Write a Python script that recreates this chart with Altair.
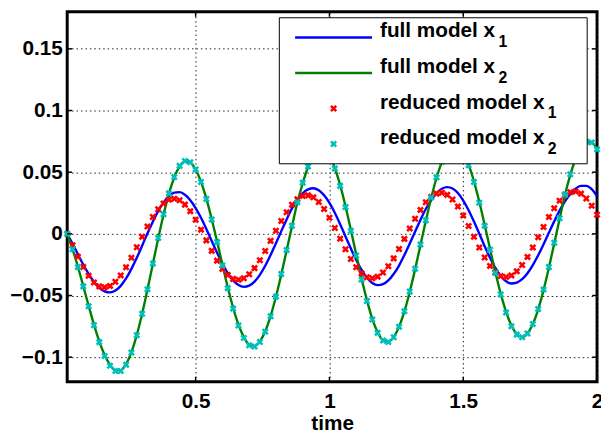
import altair as alt
import pandas as pd

# ---------------- data ----------------
time = [round(0.02 * k, 2) for k in range(1, 101)]  # sample times 0.02 ... 2.00

full_x1 = [
    0.0000, -0.0081, -0.0166, -0.0249, -0.0325, -0.0389, -0.0437, -0.0466, -0.0475, -0.0460,
    -0.0422, -0.0362, -0.0284, -0.0194, -0.0096, 0.0004, 0.0099, 0.0186, 0.0254, 0.0306,
    0.0334, 0.0338, 0.0317, 0.0273, 0.0209, 0.0130, 0.0039, -0.0058, -0.0153, -0.0242,
    -0.0318, -0.0378, -0.0415, -0.0430, -0.0420, -0.0387, -0.0332, -0.0259, -0.0172, -0.0077,
    0.0022, 0.0117, 0.0206, 0.0275, 0.0329, 0.0361, 0.0370, 0.0353, 0.0313, 0.0251,
    0.0171, 0.0078, -0.0021, -0.0119, -0.0212, -0.0293, -0.0356, -0.0398, -0.0416, -0.0408,
    -0.0378, -0.0326, -0.0257, -0.0172, -0.0079, 0.0018, 0.0113, 0.0201, 0.0273, 0.0330,
    0.0366, 0.0379, 0.0367, 0.0331, 0.0270, 0.0192, 0.0100, 0.0001, -0.0100, -0.0193,
    -0.0276, -0.0341, -0.0384, -0.0403, -0.0396, -0.0368, -0.0319, -0.0253, -0.0174, -0.0085,
    0.0009, 0.0101, 0.0188, 0.0263, 0.0323, 0.0367, 0.0389, 0.0389, 0.0362, 0.0305,
]

full_x2 = [
    0.0000, -0.0123, -0.0267, -0.0423, -0.0583, -0.0736, -0.0872, -0.0983, -0.1062, -0.1104,
    -0.1105, -0.1056, -0.0959, -0.0821, -0.0648, -0.0452, -0.0244, -0.0038, 0.0155, 0.0324,
    0.0457, 0.0547, 0.0588, 0.0578, 0.0522, 0.0422, 0.0286, 0.0121, -0.0061, -0.0250,
    -0.0433, -0.0599, -0.0736, -0.0837, -0.0897, -0.0908, -0.0872, -0.0790, -0.0667, -0.0510,
    -0.0329, -0.0135, 0.0061, 0.0252, 0.0410, 0.0542, 0.0636, 0.0684, 0.0684, 0.0633,
    0.0534, 0.0395, 0.0224, 0.0032, -0.0168, -0.0362, -0.0537, -0.0688, -0.0798, -0.0861,
    -0.0874, -0.0837, -0.0754, -0.0629, -0.0471, -0.0288, -0.0092, 0.0104, 0.0289, 0.0453,
    0.0581, 0.0672, 0.0716, 0.0711, 0.0658, 0.0561, 0.0426, 0.0260, 0.0073, -0.0121,
    -0.0311, -0.0485, -0.0632, -0.0744, -0.0813, -0.0835, -0.0807, -0.0732, -0.0612, -0.0456,
    -0.0274, -0.0078, 0.0121, 0.0314, 0.0478, 0.0609, 0.0701, 0.0746, 0.0741, 0.0688,
]

reduced_x1 = [
    0.0000, -0.0093, -0.0185, -0.0269, -0.0340, -0.0394, -0.0426, -0.0434, -0.0422, -0.0388,
    -0.0337, -0.0271, -0.0194, -0.0109, -0.0023, 0.0059, 0.0136, 0.0199, 0.0246, 0.0276,
    0.0285, 0.0272, 0.0237, 0.0184, 0.0114, 0.0034, -0.0053, -0.0138, -0.0217, -0.0284,
    -0.0334, -0.0365, -0.0373, -0.0360, -0.0328, -0.0278, -0.0214, -0.0139, -0.0057, 0.0025,
    0.0104, 0.0175, 0.0236, 0.0280, 0.0306, 0.0312, 0.0296, 0.0258, 0.0201, 0.0130,
    0.0048, -0.0039, -0.0125, -0.0204, -0.0271, -0.0322, -0.0352, -0.0360, -0.0347, -0.0314,
    -0.0263, -0.0199, -0.0123, -0.0041, 0.0043, 0.0123, 0.0194, 0.0256, 0.0300, 0.0326,
    0.0333, 0.0316, 0.0278, 0.0221, 0.0148, 0.0064, -0.0024, -0.0111, -0.0192, -0.0260,
    -0.0311, -0.0342, -0.0350, -0.0337, -0.0304, -0.0253, -0.0187, -0.0111, -0.0028, 0.0056,
    0.0137, 0.0208, 0.0269, 0.0313, 0.0338, 0.0344, 0.0326, 0.0286, 0.0228, 0.0155,
]

reduced_x2 = [
    0.0000, -0.0125, -0.0270, -0.0426, -0.0587, -0.0741, -0.0878, -0.0990, -0.1069, -0.1112,
    -0.1112, -0.1061, -0.0962, -0.0822, -0.0648, -0.0450, -0.0241, -0.0034, 0.0159, 0.0328,
    0.0461, 0.0551, 0.0591, 0.0580, 0.0522, 0.0420, 0.0282, 0.0116, -0.0067, -0.0257,
    -0.0440, -0.0606, -0.0743, -0.0844, -0.0904, -0.0914, -0.0877, -0.0793, -0.0668, -0.0509,
    -0.0326, -0.0131, 0.0066, 0.0257, 0.0415, 0.0546, 0.0639, 0.0686, 0.0684, 0.0631,
    0.0530, 0.0389, 0.0217, 0.0024, -0.0176, -0.0370, -0.0544, -0.0694, -0.0803, -0.0865,
    -0.0877, -0.0838, -0.0754, -0.0627, -0.0467, -0.0283, -0.0086, 0.0110, 0.0295, 0.0458,
    0.0585, 0.0675, 0.0717, 0.0710, 0.0655, 0.0556, 0.0420, 0.0253, 0.0065, -0.0129,
    -0.0318, -0.0492, -0.0638, -0.0749, -0.0817, -0.0838, -0.0808, -0.0731, -0.0610, -0.0452,
    -0.0269, -0.0072, 0.0127, 0.0320, 0.0483, 0.0613, 0.0703, 0.0747, 0.0740, 0.0685,
]

x_ticks = [0.5, 1.0, 1.5, 2.0]
y_ticks = [-0.1, -0.05, 0.0, 0.05, 0.1, 0.15]
legend_labels = ["full model x", "full model x", "reduced model x", "reduced model x"]
legend_subs = ["1", "2", "1", "2"]

# ---------------- styling ----------------
W, H = 537, 375
FONT = "Arial, Helvetica, sans-serif"
BLUE, GREEN, RED, CYAN = "#0000ff", "#008000", "#ff0000", "#00bfbf"
XMARK = "M-1,-1L1,1M-1,1L1,-1"
MSIZE, MSTROKE = 28, 2.6

xscale = alt.Scale(domain=[0.02, 2.0], nice=False, zero=False)
yscale = alt.Scale(domain=[-0.12, 0.18], nice=False, zero=False)

xaxis = alt.Axis(
    values=x_ticks, format="~g", grid=True, gridDash=[1.5, 3], gridColor="#222",
    gridWidth=1, domain=False, ticks=False, tickSize=0, labelPadding=9,
    labelFont=FONT, labelFontSize=21, labelFontWeight="bold", labelColor="black",
    labelFlush=False, labelOverlap=False, titleFont=FONT, titleFontSize=21,
    titleFontWeight="bold", titleColor="black", titleY=48, titleBaseline="alphabetic",
)
yaxis = alt.Axis(
    values=y_ticks, format=".2~f", grid=True, gridDash=[1.5, 3], gridColor="#222",
    gridWidth=1, domain=False, ticks=False, tickSize=0, labelPadding=5,
    labelFont=FONT, labelFontSize=21, labelFontWeight="bold", labelColor="black",
    labelFlush=False, labelOverlap=False,
)


def X(field="t"):
    return alt.X(f"{field}:Q", scale=xscale, axis=xaxis, title="time")


def Y(field="v"):
    return alt.Y(f"{field}:Q", scale=yscale, axis=yaxis, title=None)


def series_df(vals):
    return pd.DataFrame({"t": time, "v": vals})


def line_layer(vals, color):
    return alt.Chart(series_df(vals)).mark_line(
        color=color, strokeWidth=2.4, interpolate="monotone"
    ).encode(x=X(), y=Y())


def marker_layer(vals, color):
    return alt.Chart(series_df(vals)).mark_point(
        shape=XMARK, filled=False, color=color, size=MSIZE, strokeWidth=MSTROKE, opacity=1
    ).encode(x=X(), y=Y())


layers = [
    line_layer(full_x1, BLUE),
    line_layer(full_x2, GREEN),
    marker_layer(reduced_x1, RED),
    marker_layer(reduced_x2, CYAN),
]

# inward ticks (MATLAB style) on all four sides
ydf = pd.DataFrame({"v": y_ticks})
xdf = pd.DataFrame({"t": x_ticks})
layers += [
    alt.Chart(ydf).mark_rule(color="black", strokeWidth=1.5).encode(
        y=Y(), x=alt.value(0), x2=alt.value(5)),
    alt.Chart(ydf).mark_rule(color="black", strokeWidth=1.5).encode(
        y=Y(), x=alt.value(W - 5), x2=alt.value(W)),
    alt.Chart(xdf).mark_rule(color="black", strokeWidth=1.5).encode(
        x=X(), y=alt.value(H - 5), y2=alt.value(H)),
    alt.Chart(xdf).mark_rule(color="black", strokeWidth=1.5).encode(
        x=X(), y=alt.value(0), y2=alt.value(5)),
]

# legend box
one = pd.DataFrame({"a": [0]})
layers.append(
    alt.Chart(one).mark_rect(fill="white", stroke="black", strokeWidth=1).encode(
        x=alt.value(215), x2=alt.value(527), y=alt.value(6), y2=alt.value(154))
)
row_y = [26, 62, 98, 134]
layers.append(alt.Chart(one).mark_rule(color=BLUE, strokeWidth=2.4).encode(
    x=alt.value(231), x2=alt.value(309), y=alt.value(row_y[0])))
layers.append(alt.Chart(one).mark_rule(color=GREEN, strokeWidth=2.4).encode(
    x=alt.value(231), x2=alt.value(309), y=alt.value(row_y[1])))
layers.append(alt.Chart(one).mark_point(
    shape=XMARK, filled=False, color=RED, size=MSIZE, strokeWidth=MSTROKE, opacity=1).encode(
    x=alt.value(270), y=alt.value(row_y[2])))
layers.append(alt.Chart(one).mark_point(
    shape=XMARK, filled=False, color=CYAN, size=MSIZE, strokeWidth=MSTROKE, opacity=1).encode(
    x=alt.value(270), y=alt.value(row_y[3])))
sub_x = [437, 437, 487, 487]
for i in range(4):
    layers.append(alt.Chart(one).mark_text(
        align="left", baseline="alphabetic", font=FONT, fontSize=21,
        fontWeight="bold", color="black").encode(
        x=alt.value(317), y=alt.value(row_y[i]), text=alt.value(legend_labels[i])))
    layers.append(alt.Chart(one).mark_text(
        align="left", baseline="alphabetic", font=FONT, fontSize=16,
        fontWeight="bold", color="black").encode(
        x=alt.value(sub_x[i]), y=alt.value(row_y[i] + 10), text=alt.value(legend_subs[i])))

chart = alt.layer(*layers).properties(
    width=W, height=H,
    autosize=alt.AutoSizeParams(type="none"),
    padding={"left": 60, "top": 1, "right": 4, "bottom": 53},
    background="white",
).configure_view(stroke="black", strokeWidth=3)

chart.save("out.html", embed_options={"renderer": "svg", "actions": False})
